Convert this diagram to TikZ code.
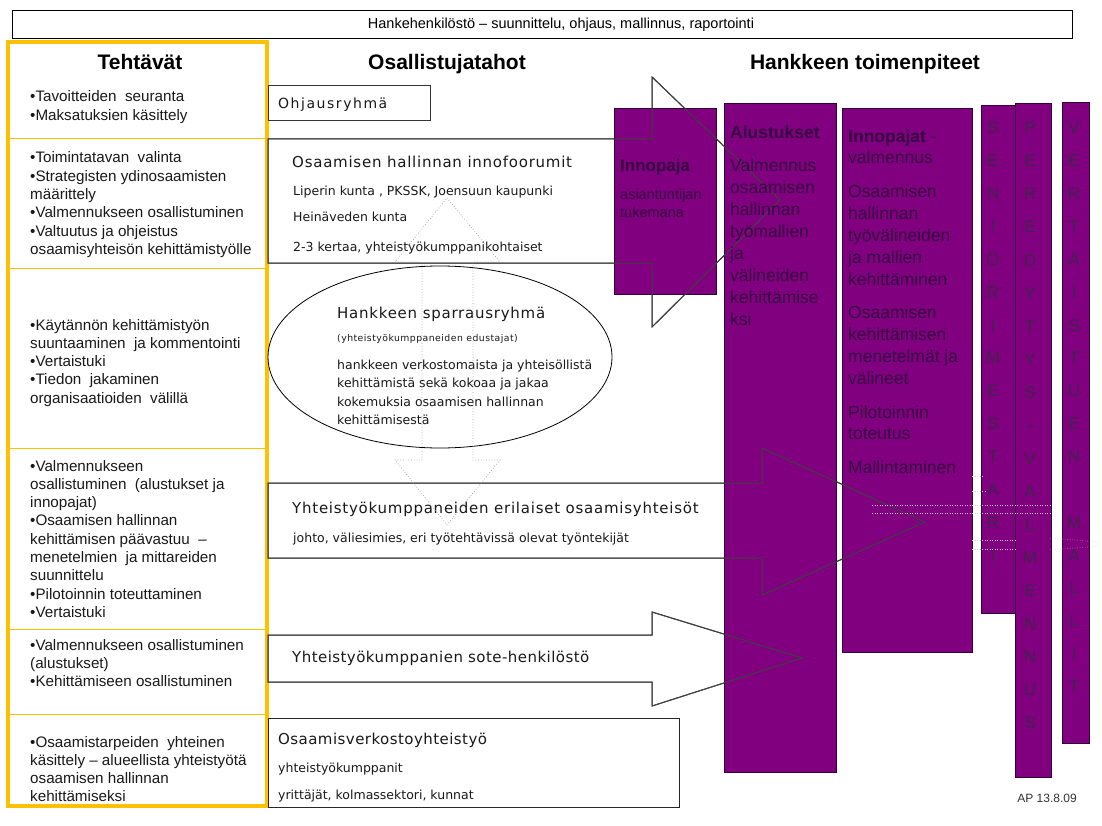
\documentclass[tikz,border=0pt]{standalone}
\usepackage{fontspec}
\setmainfont{Liberation Sans}
\newfontfamily\gothic{DejaVu Sans}
\newfontfamily\gothicsp[LetterSpace=5]{DejaVu Sans}
\newfontfamily\gothicmid[LetterSpace=3]{DejaVu Sans}
\newfontfamily\gothicwide[LetterSpace=11]{DejaVu Sans}
\definecolor{gold}{RGB}{255,192,0}
\definecolor{purp}{RGB}{128,0,128}
\definecolor{purpline}{RGB}{50,0,60}
\definecolor{purptext}{RGB}{55,5,65}
\definecolor{purpletter}{RGB}{68,34,78}
\definecolor{outl}{RGB}{64,64,64}
\newcommand\fsz[2]{\fontsize{#1}{#2}\selectfont}
\tikzset{
  lefttxt/.style={anchor=base west, inner sep=0pt, font=\fsz{15.2}{18}, text=black!90},
  ptxt/.style={anchor=base west, inner sep=0pt, font=\fsz{17.5}{21}, text=purptext},
  vletter/.style={anchor=base, inner sep=0pt, font=\fsz{17}{20}, text=purpletter},
  pbox/.style={fill=purp, draw=purpline, line width=1pt},
  arrline/.style={draw=outl, line width=1pt},
  gtxt/.style={anchor=base west, inner sep=0pt, text=black!90},
  smallg/.style={gtxt, font=\gothic\fsz{12.5}{14}},
  heading/.style={anchor=base, inner sep=0pt, font=\fsz{21}{24}\bfseries},
  remn/.style={draw=gray!45, dotted, line width=0.5pt}
}
\def\innoarrow{(268,139) -- (652,139) -- (652,77) -- (780,200) -- (652,327) -- (652,263) -- (268,263) -- cycle}
\def\yhtarrow{(268,483) -- (762,483) -- (762,448) -- (925,522) -- (762,595) -- (762,558) -- (268,558) -- cycle}
\def\sotearrow{(268,635) -- (652,635) -- (652,612) -- (802,658) -- (652,706) -- (652,682) -- (268,682) -- cycle}
\begin{document}
\begin{tikzpicture}[x=1pt,y=-1pt]
\useasboundingbox (0,0) rectangle (1102,826);
\fill[white] (0,0) rectangle (1102,826);

% title
\draw[black, line width=0.8pt] (12,10) rectangle (1072,38);
\node[anchor=base, inner sep=0pt, font=\fsz{14.5}{16}] (title) at (561,29) {Hankehenkilöstö – suunnittelu, ohjaus, mallinnus, raportointi};

% headings
\node[heading] (h1) at (140,69.5) {Tehtävät};
\node[heading] (h2) at (447,69.5) {Osallistujatahot};
\node[heading] (h3) at (865,69.5) {Hankkeen toimenpiteet};

% left column
\foreach \yy in {139,268,448,629,714} \draw[gold, line width=1pt] (8,\yy) -- (267,\yy);
\draw[gold, line width=3.5pt] (8,42) rectangle (267,806);

\foreach \t [count=\i from 0] in {{•Tavoitteiden\ \ seuranta},{•Maksatuksien käsittely}}
  \node[lefttxt] (a\i) at (30,102+\i*18.3) {\t};
\foreach \t [count=\i from 0] in {{•Toimintatavan\ \ valinta},{•Strategisten ydinosaamisten},{määrittely},{•Valmennukseen osallistuminen},{•Valtuutus ja ohjeistus},{osaamisyhteisön kehittämistyölle}}
  \node[lefttxt] (b\i) at (30,163+\i*18.3) {\t};
\foreach \t [count=\i from 0] in {{•Käytännön kehittämistyön},{suuntaaminen\ \ ja kommentointi},{•Vertaistuki},{•Tiedon\ \ jakaminen},{organisaatioiden\ \ välillä}}
  \node[lefttxt] (c\i) at (30,330+\i*18.3) {\t};
\foreach \t [count=\i from 0] in {{•Valmennukseen},{osallistuminen\ \ (alustukset ja},{innopajat)},{•Osaamisen hallinnan},{kehittämisen päävastuu\ \ –},{menetelmien\ \ ja mittareiden},{suunnittelu},{•Pilotoinnin toteuttaminen},{•Vertaistuki}}
  \node[lefttxt] (d\i) at (30,471+\i*18.3) {\t};
\foreach \t [count=\i from 0] in {{•Valmennukseen osallistuminen},{(alustukset)},{•Kehittämiseen osallistuminen}}
  \node[lefttxt] (e\i) at (30,650+\i*18.3) {\t};
\foreach \t [count=\i from 0] in {{•Osaamistarpeiden\ \ yhteinen},{käsittely – alueellista yhteistyötä},{osaamisen hallinnan},{kehittämiseksi}}
  \node[lefttxt] (f\i) at (30,747+\i*18.3) {\t};

% middle shapes
\draw[black!80, line width=0.8pt, fill=white] (268,85) rectangle (430,120);
\path[fill=white, arrline] \innoarrow;
\draw[black, line width=0.8pt, fill=white] (440,357) ellipse [x radius=172, y radius=91];
\path[fill=white, arrline] \yhtarrow;
\path[fill=white, arrline] \sotearrow;
\draw[black!85, line width=1pt, fill=white] (268,718) rectangle (679,807);

% purple boxes
\draw[pbox] (614,109) rectangle (716,294);
\draw[pbox] (724,104) rectangle (836,772);
\draw[pbox] (842,109) rectangle (972,652);
\draw[pbox] (981,106) rectangle (1015,613);
\draw[pbox] (1015,104) rectangle (1051,777);
\draw[pbox] (1062,103) rectangle (1089,743);

% arrow outlines over purple
\path[arrline] \innoarrow;
\path[arrline] \yhtarrow;
\path[arrline] \sotearrow;

% middle texts
\node[gtxt, font=\gothicwide\fsz{14}{16}] (ohj) at (278,109) {Ohjausryhmä};
\node[gtxt, font=\gothicsp\fsz{15}{17}] (inno1) at (292,167.4) {Osaamisen hallinnan innofoorumit};
\node[smallg] (inno2) at (293,195.5) {Liperin kunta , PKSSK, Joensuun kaupunki};
\node[smallg] (inno3) at (293,221.5) {Heinäveden kunta};
\node[smallg] (inno4) at (293,251.5) {2-3 kertaa, yhteistyökumppanikohtaiset};

\node[gtxt, font=\gothicsp\fsz{15}{17}] (sp1) at (337,318.4) {Hankkeen sparrausryhmä};
\node[gtxt, font=\gothicsp\fsz{9.3}{11}] (sp2) at (337,341.3) {(yhteistyökumppaneiden edustajat)};
\foreach \t [count=\i from 0] in {{hankkeen verkostomaista ja yhteisöllistä},{kehittämistä sekä kokoaa ja jakaa},{kokemuksia osaamisen hallinnan},{kehittämisestä}}
  \node[smallg] (sp\i x) at (337,369.5+\i*18.3) {\t};

\node[gtxt, font=\gothicsp\fsz{15}{17}] (yh1) at (292,513.4) {Yhteistyökumppaneiden erilaiset osaamisyhteisöt};
\node[smallg] (yh2) at (293,542.5) {johto, väliesimies, eri työtehtävissä olevat työntekijät};
\node[gtxt, font=\gothicmid\fsz{15}{17}] (sote) at (292,662.4) {Yhteistyökumppanien sote-henkilöstö};
\node[gtxt, font=\gothicmid\fsz{15}{17}] (ov1) at (278,744.4) {Osaamisverkostoyhteistyö};
\node[smallg] (ov2) at (278,772.5) {yhteistyökumppanit};
\node[smallg] (ov3) at (278,799.5) {yrittäjät, kolmassektori, kunnat};

% purple texts
\node[ptxt, font=\fsz{17}{20}\bfseries] (ip1) at (620,172) {Innopaja};
\node[ptxt, font=\fsz{14.5}{17}] (ip2) at (620,200) {asiantuntijan};
\node[ptxt, font=\fsz{14.5}{17}] (ip3) at (620,218) {tukemana};

\node[ptxt, font=\fsz{17.5}{21}\bfseries] (al0) at (730,139) {Alustukset};
\foreach \t [count=\i from 0] in {Valmennus,osaamisen,hallinnan,työmallien,ja,välineiden,kehittämise,ksi}
  \node[ptxt] (al\i x) at (730,172+\i*21.9) {\t};

\node[ptxt] (ij0) at (848,143) {\textbf{Innopajat} -};
\node[ptxt] (ij1) at (848,164) {valmennus};
\foreach \t [count=\i from 0] in {Osaamisen,hallinnan,työvälineiden,{ja mallien},kehittäminen}
  \node[ptxt] (ija\i) at (848,198+\i*21.8) {\t};
\foreach \t [count=\i from 0] in {Osaamisen,kehittämisen,{menetelmät ja},välineet}
  \node[ptxt] (ijb\i) at (848,318+\i*22) {\t};
\node[ptxt] (ijc0) at (848,418) {Pilotoinnin};
\node[ptxt] (ijc1) at (848,439) {toteutus};
\node[ptxt] (ijd0) at (848,473) {Mallintaminen};

% vertical letters
\foreach \l [count=\i from 0] in {S,E,N,I,O,R,I,M,E,S,T,A,R,I}
  \node[vletter] (sen\i) at (993,134+\i*32.85) {\l};
\foreach \l [count=\i from 0] in {P,E,R,E,D,Y,T,Y,S,-,V,A,L,M,E,N,N,U,S}
  \node[vletter] (per\i) at (1030,134+\i*33) {\l};
\foreach \l [count=\i from 0] in {V,E,R,T,A,I,S,T,U,E,N}
  \node[vletter] (ver\i) at (1074,134+\i*32.85) {\l};
\foreach \l [count=\i from 12] in {M,A,L,L,I,T}
  \node[vletter] (ver\i) at (1074,134+\i*32.85) {\l};

% faint dotted remnants
\draw[remn] (972,476) -- (983,476);
\draw[remn] (972,491) -- (985,491);
\draw[remn] (872,505) -- (1050,505);
\draw[remn] (872,513) -- (1050,513);
\draw[remn] (972,540) -- (1015,540);
\draw[remn] (972,549) -- (1015,549);
\draw[remn] (1050,538) -- (1100,542);
\draw[remn] (1050,550) -- (1100,546);

% dotted double arrow
\draw[gray!75, dotted, line width=0.7pt] (447,198) -- (500,262) -- (473,262) -- (473,460) -- (500,460) -- (447,525) -- (395,460) -- (422,460) -- (422,262) -- (395,262) -- cycle;

\node[anchor=base, inner sep=0pt, font=\fsz{12}{14}, text=black!80] (ap) at (1047,802) {AP 13.8.09};
\end{tikzpicture}
\end{document}
